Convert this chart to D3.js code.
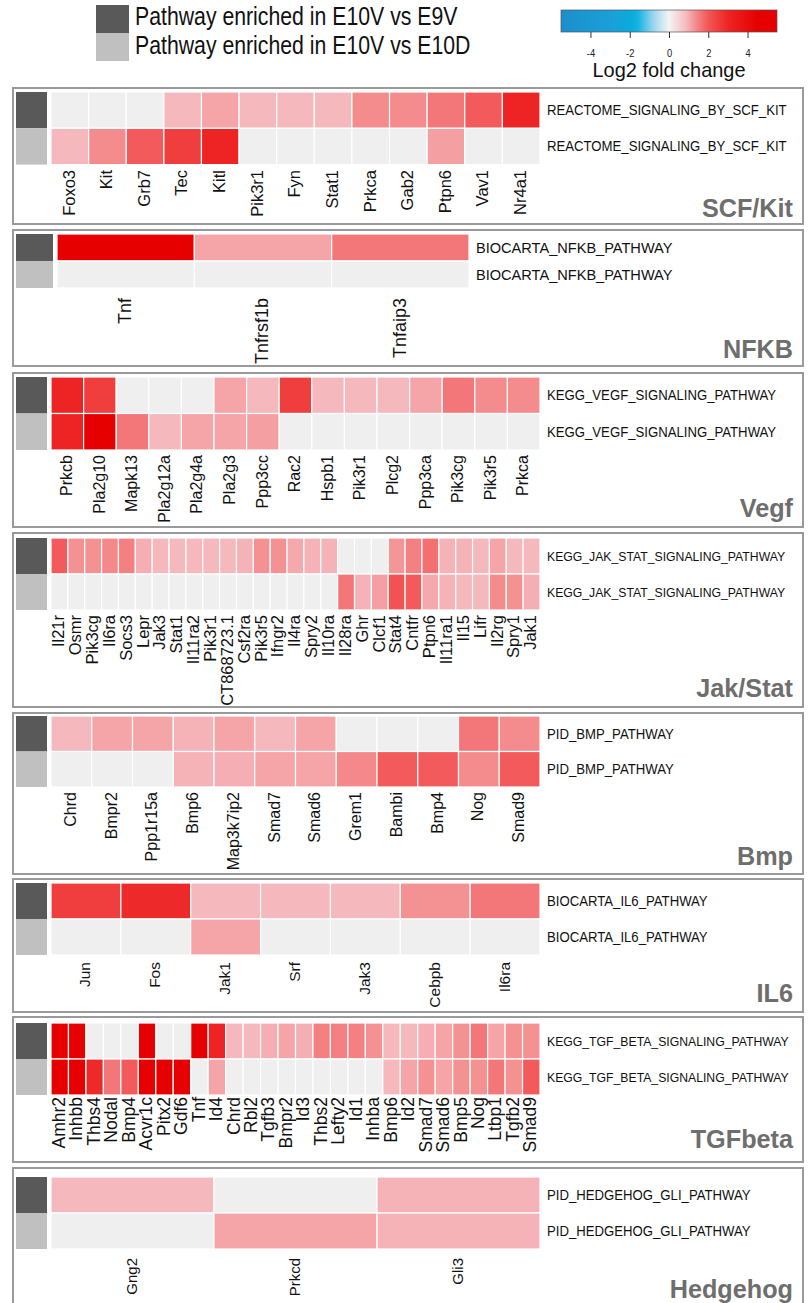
<!DOCTYPE html>
<html>
<head>
<meta charset="utf-8">
<script src="https://cdn.jsdelivr.net/npm/d3@7"></script>
<style>
  body { margin: 0; background: #fff; }
  svg { display: block; }
  text { font-family: "Liberation Sans", Arial, sans-serif; }
</style>
</head>
<body>
<svg id="chart" width="808" height="1303"></svg>
<script>

// legend
const legendLabels = ['Pathway enriched in E10V vs E9V', 'Pathway enriched in E10V vs E10D'];
const colorTicks = [-4, -2, 0, 2, 4];
const colorDomain = [-5.5, 5.5];

// SCF/Kit
const scfGenes = ['Foxo3', 'Kit', 'Grb7', 'Tec', 'Kitl', 'Pik3r1', 'Fyn', 'Stat1', 'Prkca', 'Gab2', 'Ptpn6', 'Vav1', 'Nr4a1'];
const scfE9V  = [null, null, null, 0.9, 1.1, 0.9, 0.9, 0.9, 1.35, 1.35, 1.6, 1.95, 3.0];
const scfE10D = [0.9, 1.35, 1.95, 2.5, 3.0, null, null, null, null, null, 1.15, null, null];

// NFKB
const nfkbGenes = ['Tnf', 'Tnfrsf1b', 'Tnfaip3'];
const nfkbE9V  = [4.5, 1.1, 1.6];
const nfkbE10D = [null, null, null];

// Vegf
const vegfGenes = ['Prkcb', 'Pla2g10', 'Mapk13', 'Pla2g12a', 'Pla2g4a', 'Pla2g3', 'Ppp3cc', 'Rac2', 'Hspb1', 'Pik3r1', 'Plcg2', 'Ppp3ca', 'Pik3cg', 'Pik3r5', 'Prkca'];
const vegfE9V  = [3.0, 2.5, null, null, null, 1.1, 0.9, 2.5, 0.9, 0.9, 0.9, 1.1, 1.6, 1.35, 1.35];
const vegfE10D = [3.0, 4.5, 1.6, 0.9, 1.1, 1.1, 1.15, null, null, null, null, null, null, null, null];

// Jak/Stat
const jakGenes = ['Il21r', 'Osmr', 'Pik3cg', 'Il6ra', 'Socs3', 'Lepr', 'Jak3', 'Stat1', 'Il11ra2', 'Pik3r1', 'CT868723.1', 'Csf2ra', 'Pik3r5', 'Ifngr2', 'Il4ra', 'Spry2', 'Il10ra', 'Il28ra', 'Ghr', 'Clcf1', 'Stat4', 'Cntfr', 'Ptpn6', 'Il11ra1', 'Il15', 'Lifr', 'Il2rg', 'Spry1', 'Jak1'];
const jakE9V  = [1.95, 1.3, 1.3, 1.4, 1.5, 1.0, 0.9, 0.9, 0.9, 0.9, 0.9, 0.95, 1.3, 1.3, 1.05, 0.95, 0.95, null, null, null, 1.25, 1.5, 1.7, 0.95, 0.95, 0.9, 1.1, 0.9, 0.9];
const jakE10D = [null, null, null, null, null, null, null, null, null, null, null, null, null, null, null, null, null, 1.6, 0.95, 1.15, 2.1, 1.95, 1.05, 0.95, 0.9, 0.9, 1.35, 1.3, 1.0];

// Bmp
const bmpGenes = ['Chrd', 'Bmpr2', 'Ppp1r15a', 'Bmp6', 'Map3k7ip2', 'Smad7', 'Smad6', 'Grem1', 'Bambi', 'Bmp4', 'Nog', 'Smad9'];
const bmpE9V  = [0.9, 1.1, 1.1, 0.95, 1.1, 0.9, 1.1, null, null, null, 1.6, 1.35];
const bmpE10D = [null, null, null, 0.95, 1.0, 1.1, 1.1, 1.4, 1.95, 1.95, 1.35, 1.95];

// IL6
const il6Genes = ['Jun', 'Fos', 'Jak1', 'Srf', 'Jak3', 'Cebpb', 'Il6ra'];
const il6E9V  = [2.5, 2.9, 0.9, 0.9, 0.9, 1.3, 1.6];
const il6E10D = [null, null, 1.1, null, null, null, null];

// TGFbeta
const tgfGenes = ['Amhr2', 'Inhbb', 'Thbs4', 'Nodal', 'Bmp4', 'Acvr1c', 'Pitx2', 'Gdf6', 'Tnf', 'Id4', 'Chrd', 'Rbl2', 'Tgfb3', 'Bmpr2', 'Id3', 'Thbs2', 'Lefty2', 'Id1', 'Inhba', 'Bmp6', 'Id2', 'Smad7', 'Smad6', 'Bmp5', 'Nog', 'Ltbp1', 'Tgfb2', 'Smad9'];
const tgfE9V  = [4.5, 4.5, null, null, null, 4.5, null, null, 4.5, 3.0, 0.9, 0.9, 1.0, 1.1, 1.0, 1.5, 1.5, 1.5, 1.3, 0.9, 0.9, 1.0, 1.1, 1.3, 1.6, 1.1, 1.3, 1.3];
const tgfE10D = [4.5, 4.5, 2.9, 1.6, 1.95, 4.5, 4.5, 4.5, null, 1.1, null, null, null, null, null, null, null, null, null, 0.9, 1.1, 1.3, 1.1, 1.3, 1.3, 1.6, 1.3, 1.95];

// Hedgehog
const hhGenes = ['Gng2', 'Prkcd', 'Gli3'];
const hhE9V  = [0.9, null, 0.95];
const hhE10D = [null, 1.1, 0.95];

const pathways = [
    {title: 'SCF/Kit',  name: 'REACTOME_SIGNALING_BY_SCF_KIT',    genes: scfGenes,  rows: [scfE9V, scfE10D]},
    {title: 'NFKB',     name: 'BIOCARTA_NFKB_PATHWAY',            genes: nfkbGenes, rows: [nfkbE9V, nfkbE10D]},
    {title: 'Vegf',     name: 'KEGG_VEGF_SIGNALING_PATHWAY',      genes: vegfGenes, rows: [vegfE9V, vegfE10D]},
    {title: 'Jak/Stat', name: 'KEGG_JAK_STAT_SIGNALING_PATHWAY',  genes: jakGenes,  rows: [jakE9V, jakE10D]},
    {title: 'Bmp',      name: 'PID_BMP_PATHWAY',                  genes: bmpGenes,  rows: [bmpE9V, bmpE10D]},
    {title: 'IL6',      name: 'BIOCARTA_IL6_PATHWAY',             genes: il6Genes,  rows: [il6E9V, il6E10D]},
    {title: 'TGFbeta',  name: 'KEGG_TGF_BETA_SIGNALING_PATHWAY',  genes: tgfGenes,  rows: [tgfE9V, tgfE10D]},
    {title: 'Hedgehog', name: 'PID_HEDGEHOG_GLI_PATHWAY',         genes: hhGenes,   rows: [hhE9V, hhE10D]}
];

// layout of each box (px)
const layout = [
    {top: 88,   bottom: 224,  cellTop: 92,   rowH: 36.3, left: 51, right: 540, font: 16.5, labelTop: 170,  titleY: 217,  pwFont: 14},
    {top: 230,  bottom: 366,  cellTop: 234,  rowH: 27,   left: 57, right: 469, font: 18,   labelTop: 298,  titleY: 358,  pwFont: 15.5},
    {top: 373,  bottom: 527,  cellTop: 377,  rowH: 36.5, left: 51, right: 540, font: 16,   labelTop: 455,  titleY: 517,  pwFont: 14},
    {top: 533,  bottom: 707,  cellTop: 538,  rowH: 36,   left: 51, right: 540, font: 16.5, labelTop: 615,  titleY: 697,  pwFont: 13},
    {top: 713,  bottom: 874,  cellTop: 716,  rowH: 35.5, left: 51, right: 540, font: 16,   labelTop: 792,  titleY: 865,  pwFont: 14},
    {top: 879,  bottom: 1012, cellTop: 883,  rowH: 36,   left: 51, right: 540, font: 15.5, labelTop: 962,  titleY: 1002, pwFont: 14},
    {top: 1017, bottom: 1162, cellTop: 1023, rowH: 36,   left: 51, right: 540, font: 17.5, labelTop: 1097, titleY: 1148, pwFont: 13},
    {top: 1168, bottom: 1320, cellTop: 1177, rowH: 36,   left: 51, right: 540, font: 15,   labelTop: 1258, titleY: 1298, pwFont: 14}
];

const rowColors = ['#595959', '#c0c0c0'];
const NA_COLOR = '#efefef';

const color = d3.scaleLinear()
    .domain([-5.5, -3, -2, -1.6, -0.8, 0, 0.9, 1.35, 1.95, 3.0, 4.5, 5.5])
    .range(['#1b8fcc', '#1a9fd8', '#0aaadd', '#10b2e0', '#9ad6ee', '#f4f4f4',
            '#f5b8bd', '#f48c8e', '#f25a5b', '#ee2424', '#e60000', '#e60000'])
    .clamp(true);

const svg = d3.select('#chart');

// squeeze a text horizontally (the figure uses a narrow face), never past maxRight
function condense(sel, k, maxRight) {
    sel.each(function() {
        const w = this.getComputedTextLength();
        let len = w * k;
        if (maxRight != null) {
            const x0 = +this.getAttribute('x');
            len = Math.min(len, maxRight - x0);
        }
        d3.select(this).attr('textLength', len).attr('lengthAdjust', 'spacingAndGlyphs');
    });
}

/* legend: enriched-in squares */
legendLabels.forEach((lab, i) => {
    svg.append('rect')
        .attr('x', 96).attr('y', 5 + i * 28)
        .attr('width', 33).attr('height', 28)
        .attr('fill', rowColors[i]);
    svg.append('text')
        .attr('x', 135).attr('y', 25 + i * 29)
        .attr('font-size', 25)
        .attr('fill', '#111')
        .text(lab)
        .call(condense, 0.85);
});

/* colour bar */
const barX = d3.scaleLinear().domain(colorDomain).range([561, 777]);
const grad = svg.append('defs').append('linearGradient').attr('id', 'lfc');
d3.range(0, 1.0001, 0.02).forEach(t => {
    const v = colorDomain[0] + t * (colorDomain[1] - colorDomain[0]);
    grad.append('stop').attr('offset', t).attr('stop-color', color(v));
});
svg.append('rect')
    .attr('x', barX(-5.5)).attr('y', 10)
    .attr('width', barX(5.5) - barX(-5.5)).attr('height', 22)
    .attr('fill', 'url(#lfc)')
    .attr('stroke', '#555').attr('stroke-width', 0.7);
const barAxis = svg.append('g')
    .attr('transform', 'translate(0,32)')
    .call(d3.axisBottom(barX).tickValues(colorTicks).tickFormat(d => String(d)).tickSize(6).tickPadding(11));
barAxis.select('.domain').remove();
barAxis.selectAll('line').attr('stroke', '#333');
barAxis.selectAll('text').attr('font-size', 11).attr('fill', '#222')
    .attr('font-family', '"Liberation Sans", Arial, sans-serif')
    .call(condense, 0.85);
svg.append('text')
    .attr('x', barX(0)).attr('y', 77)
    .attr('text-anchor', 'middle')
    .attr('font-size', 21)
    .attr('fill', '#111')
    .text('Log2 fold change')
    .call(condense, 0.95);

/* panels */
pathways.forEach((pw, p) => {
    const L = layout[p];
    const g = svg.append('g');

    g.append('rect')
        .attr('x', 13).attr('y', L.top)
        .attr('width', 790).attr('height', L.bottom - L.top)
        .attr('fill', '#fff')
        .attr('stroke', '#9a9a9a').attr('stroke-width', 2);

    const x = d3.scaleBand().domain(pw.genes).range([L.left, L.right]);
    const y = d3.scaleBand().domain([0, 1]).range([L.cellTop, L.cellTop + 2 * L.rowH]);

    // comparison indicator squares
    g.selectAll('rect.ind').data([0, 1]).join('rect')
        .attr('class', 'ind')
        .attr('x', 16).attr('y', d => y(d))
        .attr('width', L.left - 20).attr('height', y.bandwidth())
        .attr('fill', d => rowColors[d]);

    const cells = [];
    pw.rows.forEach((vals, r) => vals.forEach((v, i) => cells.push({gene: pw.genes[i], row: r, v: v})));

    g.selectAll('rect.cell').data(cells).join('rect')
        .attr('class', 'cell')
        .attr('x', d => x(d.gene)).attr('y', d => y(d.row))
        .attr('width', x.bandwidth()).attr('height', y.bandwidth())
        .attr('fill', d => d.v == null ? NA_COLOR : color(d.v))
        .attr('stroke', '#fff').attr('stroke-width', 1.2);

    // pathway names to the right of each row
    g.selectAll('text.pw').data([0, 1]).join('text')
        .attr('class', 'pw')
        .attr('x', L.right + 7)
        .attr('y', d => y(d) + y.bandwidth() / 2 + 5)
        .attr('font-size', L.pwFont)
        .attr('fill', '#111')
        .text(pw.name)
        .call(condense, 0.94, 799);

    // gene names, rotated
    g.selectAll('text.gene').data(pw.genes).join('text')
        .attr('class', 'gene')
        .attr('font-size', L.font)
        .attr('fill', '#111')
        .attr('text-anchor', 'end')
        .attr('dy', '0.35em')
        .attr('transform', d => `translate(${x(d) + x.bandwidth() / 2 - 1},${L.labelTop}) rotate(-90)`)
        .text(d => d);

    g.append('text')
        .attr('x', 793).attr('y', L.titleY)
        .attr('text-anchor', 'end')
        .attr('font-size', 26).attr('font-weight', 'bold')
        .attr('fill', '#6e6e6e')
        .text(pw.title)
        .call(condense, 0.97);
});

</script>
</body>
</html>
